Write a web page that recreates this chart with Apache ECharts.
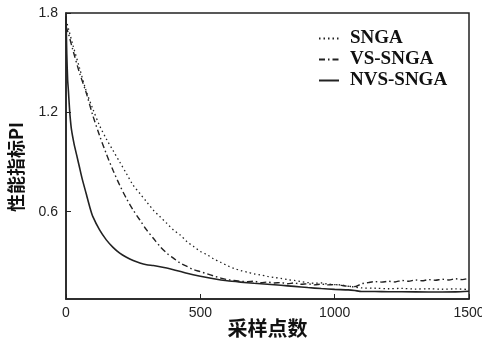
<!DOCTYPE html>
<html>
<head>
<meta charset="utf-8">
<script src="https://cdn.jsdelivr.net/npm/echarts@6/dist/echarts.min.js"></script>
<style>
  html, body { margin: 0; padding: 0; background: #fff; }
  #chart { width: 482px; height: 341px; }
</style>
</head>
<body>
<div id="chart"></div>
<script>
// Performance index PI versus number of samples for three algorithms
var seriesNames = ['SNGA', 'VS-SNGA', 'NVS-SNGA'];

var sngaX = [0, 10, 25, 50, 75, 100, 125, 150, 175, 200, 225, 250, 275, 300, 325, 350, 375, 400, 425, 450, 475, 500, 525, 550, 575, 600, 625, 650, 675, 700, 725, 750, 775, 800, 825, 850, 875, 900, 925, 950, 975, 1000, 1025, 1050, 1075, 1100, 1150, 1200, 1250, 1300, 1350, 1400, 1450, 1500];
var sngaY = [1.76, 1.70, 1.61, 1.47, 1.33, 1.22, 1.12, 1.04, 0.97, 0.90, 0.83, 0.76, 0.71, 0.66, 0.61, 0.57, 0.53, 0.49, 0.46, 0.42, 0.39, 0.36, 0.34, 0.315, 0.295, 0.275, 0.258, 0.245, 0.235, 0.225, 0.218, 0.21, 0.203, 0.197, 0.19, 0.185, 0.178, 0.172, 0.168, 0.170, 0.163, 0.160, 0.158, 0.150, 0.145, 0.140, 0.138, 0.135, 0.137, 0.133, 0.135, 0.132, 0.134, 0.130];

var vsX = [0, 10, 25, 50, 75, 100, 125, 150, 175, 200, 225, 250, 275, 300, 325, 350, 375, 400, 425, 450, 475, 500, 525, 550, 575, 600, 625, 650, 675, 700, 725, 750, 775, 800, 825, 850, 875, 900, 925, 950, 975, 1000, 1025, 1050, 1075, 1100, 1125, 1150, 1175, 1200, 1225, 1250, 1275, 1300, 1325, 1350, 1375, 1400, 1425, 1450, 1475, 1500];
var vsY = [1.72, 1.67, 1.58, 1.44, 1.32, 1.18, 1.06, 0.95, 0.85, 0.76, 0.68, 0.61, 0.55, 0.49, 0.44, 0.39, 0.35, 0.32, 0.29, 0.27, 0.25, 0.238, 0.225, 0.212, 0.20, 0.19, 0.185, 0.18, 0.178, 0.18, 0.172, 0.175, 0.17, 0.172, 0.165, 0.17, 0.162, 0.165, 0.158, 0.163, 0.158, 0.16, 0.155, 0.15, 0.148, 0.165, 0.172, 0.178, 0.175, 0.18, 0.176, 0.185, 0.18, 0.188, 0.183, 0.19, 0.186, 0.192, 0.188, 0.195, 0.19, 0.20];

var nvsX = [0, 3, 6, 9, 12, 15, 20, 30, 40, 50, 60, 75, 90, 100, 125, 150, 175, 200, 225, 250, 275, 300, 325, 350, 375, 400, 450, 500, 550, 600, 650, 700, 750, 800, 850, 900, 950, 1000, 1050, 1075, 1100, 1150, 1200, 1300, 1400, 1450, 1500];
var nvsY = [1.78, 1.55, 1.40, 1.33, 1.25, 1.18, 1.10, 1.01, 0.94, 0.87, 0.80, 0.71, 0.62, 0.57, 0.49, 0.43, 0.385, 0.35, 0.325, 0.305, 0.29, 0.28, 0.275, 0.268, 0.26, 0.25, 0.228, 0.21, 0.195, 0.183, 0.175, 0.168, 0.162, 0.156, 0.149, 0.142, 0.136, 0.131, 0.128, 0.124, 0.118, 0.118, 0.117, 0.116, 0.115, 0.116, 0.12];

var xTicks = [0, 500, 1000, 1500];
var yTicks = [0.6, 1.2, 1.8];

function pairs(xs, ys) {
  return xs.map(function (x, i) { return [x, ys[i]]; });
}

var ink = '#222';
var chart = echarts.init(document.getElementById('chart'), null, { renderer: 'canvas' });

chart.setOption({
  animation: false,
  backgroundColor: '#fff',
  grid: {
    left: 66, right: 13, top: 13, bottom: 42,
    containLabel: false, outerBoundsMode: 'none',
    show: true, borderColor: ink, borderWidth: 1.5, backgroundColor: 'transparent'
  },
  legend: {
    orient: 'vertical',
    left: 313, top: 24,
    itemWidth: 20, itemHeight: 14, itemGap: 2,
    data: seriesNames,
    itemStyle: { opacity: 0 },
    textStyle: {
      fontFamily: 'Liberation Serif', fontWeight: 'bold', fontSize: 19, color: '#111',
      padding: [0, 0, 0, 6]
    }
  },
  xAxis: {
    type: 'value', min: 0, max: 1500,
    name: '采样点数', nameLocation: 'middle', nameGap: 19, nameMoveOverlap: false,
    nameTextStyle: { fontFamily: 'Noto Sans CJK SC', fontWeight: 'bold', fontSize: 20, color: '#111' },
    axisLine: { show: true, lineStyle: { color: ink, width: 1.5 } },
    axisTick: { show: true, inside: true, length: 5, customValues: xTicks, lineStyle: { color: ink } },
    axisLabel: {
      customValues: xTicks, margin: 7,
      fontFamily: 'Liberation Sans', fontSize: 14, color: '#222',
      formatter: function (v) { return String(v); }
    },
    splitLine: { show: false }
  },
  yAxis: {
    type: 'value', min: 0.073, max: 1.8,
    name: '性能指标PI', nameLocation: 'middle', nameGap: 41, nameRotate: 90, nameMoveOverlap: false,
    nameTextStyle: {
      fontFamily: 'Noto Sans CJK SC', fontWeight: 'bold', fontSize: 18, color: '#111',
      padding: [0, 22, 0, 0]
    },
    axisLine: { show: true, lineStyle: { color: ink, width: 1.5 } },
    axisTick: { show: true, inside: true, length: 5, customValues: yTicks, lineStyle: { color: ink } },
    axisLabel: {
      customValues: yTicks, margin: 8,
      fontFamily: 'Liberation Sans', fontSize: 14, color: '#222',
      formatter: function (v) { return v.toFixed(1); }
    },
    splitLine: { show: false }
  },
  series: [
    {
      name: 'SNGA', type: 'line', data: pairs(sngaX, sngaY),
      showSymbol: false, symbol: 'none', smooth: 0.3,
      lineStyle: { color: ink, width: 1.3, type: [1.5, 3] },
      itemStyle: { color: ink }
    },
    {
      name: 'VS-SNGA', type: 'line', data: pairs(vsX, vsY),
      showSymbol: false, symbol: 'none', smooth: 0.3,
      lineStyle: { color: ink, width: 1.4, type: [6, 3, 1.5, 3] },
      itemStyle: { color: ink }
    },
    {
      name: 'NVS-SNGA', type: 'line', data: pairs(nvsX, nvsY),
      showSymbol: false, symbol: 'none', smooth: 0.2,
      lineStyle: { color: ink, width: 1.6 },
      itemStyle: { color: ink }
    }
  ]
});
</script>
</body>
</html>
